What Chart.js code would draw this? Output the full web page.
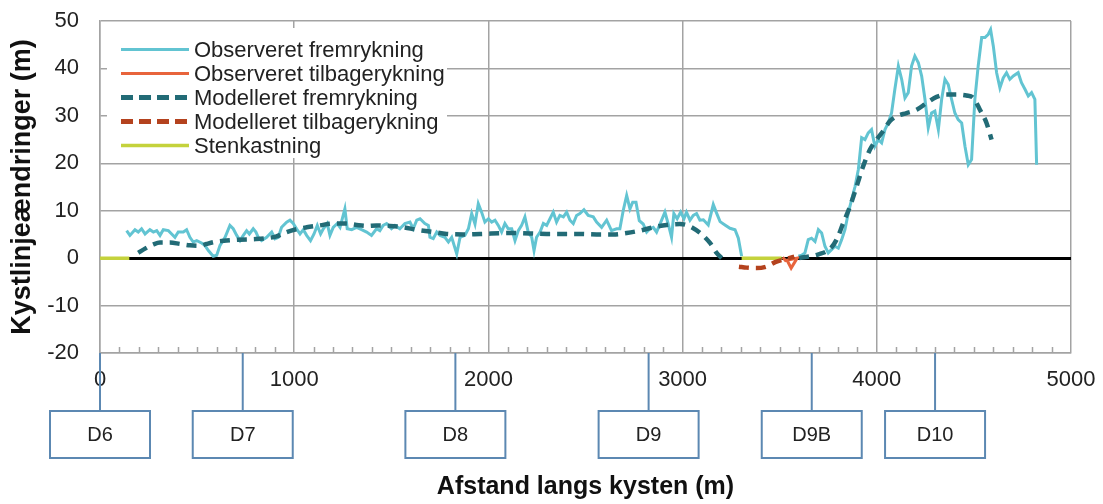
<!DOCTYPE html>
<html>
<head>
<meta charset="utf-8">
<script src="https://cdn.jsdelivr.net/npm/chart.js@4/dist/chart.umd.min.js"></script>
<style>
  html, body { margin: 0; padding: 0; background: #fff; }
  #wrap { width: 1103px; height: 504px; }
</style>
</head>
<body>
<div id="wrap"><canvas id="kyst"></canvas></div>
<script>
// --- data: [afstand (m), ændring (m)] ---
var obsFremA = [
  [137,5.8],[154,4.8],[180,6.0],[197,5.5],[214,6.2],[232,5.1],[257,6.0],[275,5.5],[292,5.8],[309,4.8],
  [326,6.0],[352,5.8],[369,5.1],[386,4.4],[403,5.5],[429,5.5],[446,6.0],[463,4.4],[480,3.4],[498,3.7],
  [523,3.2],[540,2.7],[558,1.6],[583,0.4],[601,0.6],[618,2.7],[644,4.4],[669,6.9],[686,6.2],[704,4.8],
  [721,3.7],[738,4.8],[755,5.8],[769,5.1],[789,6.2],[803,5.5],[815,4.4],[832,3.7],[858,4.4],[884,5.5],
  [901,4.1],[918,4.4],[935,6.5],[961,7.6],[978,8.0],[995,7.3],[1012,6.2],[1030,5.1],[1047,6.0],[1064,4.8],
  [1084,3.7],[1102,5.1],[1119,6.9],[1136,5.1],[1150,6.2],[1170,7.3],[1184,4.8],[1201,6.5],[1222,7.3],[1236,6.5],
  [1261,10.4],[1273,6.2],[1296,6.0],[1321,6.5],[1347,6.0],[1373,5.5],[1398,4.8],[1424,6.2],[1441,5.8],[1458,6.9],
  [1476,7.3],[1501,6.2],[1519,6.9],[1544,6.2],[1570,7.3],[1596,7.6],[1613,6.2],[1631,8.0],[1648,8.3],[1673,7.3],
  [1691,6.9],[1699,4.4],[1716,4.1],[1734,5.5],[1751,4.8],[1776,4.4],[1794,3.4],[1811,4.4],[1837,0.9],[1854,4.4],
  [1879,4.8],[1897,6.2],[1914,9.4],[1931,7.2],[1948,11.5],[1965,9.7],[1982,7.6],[2000,8.3],[2017,7.6],[2034,8.0],
  [2051,6.9],[2068,5.5],[2085,7.3],[2102,6.2],[2120,6.2],[2137,3.7],[2154,5.8],[2171,6.9],[2188,8.7],[2205,5.5],
  [2223,4.4],[2235,1.6],[2248,4.4],[2266,5.5],[2283,7.3],[2300,6.9],[2317,8.3],[2334,9.7],[2351,7.6],[2368,9.0],
  [2386,8.7],[2403,9.7],[2420,8.0],[2437,7.3],[2454,9.0],[2471,9.4],[2492,10.2],[2514,9.0],[2540,8.7],[2557,7.6],
  [2583,6.5],[2609,8.0],[2634,5.8],[2660,6.2],[2677,6.2],[2694,10.0],[2712,13.2],[2729,10.4],[2743,11.8],[2760,11.8],
  [2777,7.9],[2797,7.2],[2815,5.5],[2832,6.2],[2849,6.5],[2866,5.5],[2892,8.0],[2909,9.7],[2926,7.2],[2943,4.4],
  [2955,9.4],[2972,8.3],[2990,9.7],[3007,8.3],[3020,9.7],[3038,8.0],[3055,9.0],[3072,9.4],[3089,8.0],[3107,8.1],
  [3132,7.0],[3158,11.3],[3175,9.5],[3193,7.7],[3218,7.0],[3244,6.3],[3270,6.0],[3287,4.2],[3304,0.4]
];
var obsFremB = [
  [3596,0.4],[3613,0.6],[3630,1.1],[3647,3.9],[3664,4.2],[3682,3.5],[3699,6.0],[3716,5.3],[3733,2.5],[3750,1.1],
  [3767,1.8],[3785,2.5],[3802,2.1],[3819,3.9],[3836,6.0],[3853,9.5],[3870,12.3],[3888,15.1],[3905,18.7],[3922,25.4],
  [3939,25.0],[3956,26.4],[3973,27.1],[3990,23.6],[4008,25.0],[4025,24.3],[4042,27.1],[4059,28.5],[4076,30.6],[4093,35.6],
  [4111,40.5],[4128,37.7],[4145,33.8],[4162,34.9],[4179,40.5],[4196,42.6],[4214,41.2],[4231,38.4],[4248,33.5],[4265,27.5],
  [4282,30.6],[4299,31.0],[4317,27.1],[4334,33.5],[4351,37.7],[4368,36.6],[4385,33.5],[4402,30.6],[4419,29.2],[4437,28.5],
  [4454,23.6],[4471,19.7],[4488,20.8],[4505,33.5],[4522,40.5],[4540,46.5],[4557,46.5],[4574,47.2],[4586,48.2],[4600,44.7],
  [4617,39.1],[4634,35.9],[4651,38.0],[4668,39.1],[4685,37.7],[4703,38.4],[4728,39.1],[4745,37.0],[4763,35.6],[4780,34.2],
  [4797,34.9],[4814,33.5],[4823,19.7]
];
var obsTilbage = [[3515,0.2],[3530,-0.5],[3590,0.0],[3559,-2.1],[3540,-0.6]];
var modFremA = [
  [197,1.1],[232,2.0],[275,2.9],[309,3.3],[360,3.3],[412,3.0],[463,2.7],[515,2.6],[549,3.0],[601,3.5],
  [652,3.7],[721,3.9],[789,4.0],[858,4.2],[909,4.6],[961,5.5],[1012,6.1],[1064,6.5],[1132,6.9],[1201,7.3],
  [1270,7.3],[1321,7.0],[1373,6.8],[1424,6.9],[1493,6.8],[1562,6.5],[1630,6.0],[1716,5.5],[1785,5.1],[1871,5.0],
  [1957,5.1],[2128,5.3],[2300,5.1],[2471,5.1],[2557,5.0],[2643,5.0],[2712,5.3],[2780,5.8],[2849,6.5],[2918,7.0],
  [2986,7.2],[3038,6.7],[3090,5.3],[3141,3.2],[3175,1.1],[3201,0.0]
];
var modFremB = [
  [3600,0.0],[3700,0.8],[3760,2.0],[3793,3.9],[3827,7.4],[3862,10.9],[3896,15.1],[3930,19.4],[3965,22.9],[3999,25.0],
  [4033,26.8],[4068,28.9],[4102,29.9],[4153,30.6],[4205,31.3],[4256,32.7],[4308,34.0],[4359,34.5],[4411,34.5],[4462,34.3],
  [4497,33.8],[4531,31.3],[4565,28.5],[4591,25.0]
];
var modTilbage = [[3290,-1.8],[3330,-2.0],[3380,-2.1],[3430,-1.8],[3480,-0.8],[3520,-0.3],[3575,0.3]];
var stenA = [[0,0],[151,0]];
var stenB = [[3304,0],[3510,0]];

var stationNames = ["D6", "D7", "D8", "D9", "D9B", "D10"];
var stationDist = [0, 735, 1830, 2825, 3665, 4300];

var seriesLabels = ["Observeret fremrykning", "Observeret tilbagerykning", "Modelleret fremrykning",
  "Modelleret tilbagerykning", "Stenkastning"];

var
  cyan = "#62c4d2",
  orange = "#e8643c",
  teal = "#226b76",
  darkRed = "#b4421e",
  olive = "#c4d23c",
  gridGrey = "#a3a3a3",
  boxBlue = "#5c88b2",
  fontName = "'Liberation Sans', Arial, sans-serif";

function pts(arr) {
  return arr.map(function (p) { return {x: p[0], y: p[1]}; });
}
function gap(a, b) {
  return pts(a).concat([{x: (a[a.length - 1][0] + b[0][0]) / 2, y: null}], pts(b));
}

var dash = [10, 7];

var extras = {
  id: "extras",
  beforeDatasetsDraw: function (chart) {
    var ctx = chart.ctx, xs = chart.scales.x, a = chart.chartArea;
    ctx.save();
    ctx.strokeStyle = gridGrey;
    ctx.lineWidth = 1.5;
    for (var v = 100; v < 5000; v += 100) {
      if (v % 1000 === 0) continue;
      var px = Math.round(xs.getPixelForValue(v)) + 0.5;
      ctx.beginPath();
      ctx.moveTo(px, a.bottom);
      ctx.lineTo(px, a.bottom - 6);
      ctx.stroke();
    }
    ctx.restore();
  },
  afterDraw: function (chart) {
    var ctx = chart.ctx, xs = chart.scales.x, a = chart.chartArea;
    ctx.save();

    // legend inside the plot
    var lx = a.left + 7, ly = a.top + 7;
    ctx.fillStyle = "#fff";
    ctx.fillRect(lx, ly, 340, 130);
    var legendStyle = [
      {c: cyan, w: 3, d: []},
      {c: orange, w: 3, d: []},
      {c: teal, w: 5, d: [12, 6]},
      {c: darkRed, w: 5, d: [12, 6]},
      {c: olive, w: 3.5, d: []}
    ];
    ctx.font = "22px " + fontName;
    ctx.textBaseline = "middle";
    ctx.textAlign = "left";
    seriesLabels.forEach(function (lab, i) {
      var y = a.top + 28.5 + i * 24;
      var s = legendStyle[i];
      ctx.strokeStyle = s.c;
      ctx.lineWidth = s.w;
      ctx.setLineDash(s.d);
      ctx.beginPath();
      ctx.moveTo(a.left + 21, y);
      ctx.lineTo(a.left + 89, y);
      ctx.stroke();
      ctx.setLineDash([]);
      ctx.fillStyle = "#222";
      ctx.fillText(lab, a.left + 94, y + 1);
    });

    // station boxes below the axis
    ctx.strokeStyle = boxBlue;
    ctx.lineWidth = 2;
    ctx.font = "20px " + fontName;
    ctx.textAlign = "center";
    var boxTop = a.bottom + 58, boxH = 47, boxW = 100;
    stationNames.forEach(function (name, i) {
      var px = xs.getPixelForValue(stationDist[i]);
      ctx.beginPath();
      ctx.moveTo(px, a.bottom);
      ctx.lineTo(px, boxTop);
      ctx.stroke();
      ctx.strokeRect(px - boxW / 2, boxTop, boxW, boxH);
      ctx.fillStyle = "#222";
      ctx.fillText(name, px, boxTop + boxH / 2 + 1);
    });
    ctx.restore();
  }
};

function plain(v) { return String(v); }

new Chart(document.getElementById("kyst").getContext("2d"), {
  type: "line",
  data: {
    datasets: [
      {label: seriesLabels[2], data: gap(modFremA, modFremB), borderColor: teal, borderWidth: 4.5,
        borderDash: dash, cubicInterpolationMode: "monotone"},
      {label: seriesLabels[3], data: pts(modTilbage), borderColor: darkRed, borderWidth: 4.5,
        borderDash: dash, cubicInterpolationMode: "monotone"},
      {label: seriesLabels[1], data: pts(obsTilbage), borderColor: orange, borderWidth: 3},
      {label: seriesLabels[4], data: gap(stenA, stenB), borderColor: olive, borderWidth: 3.5},
      {label: seriesLabels[0], data: gap(obsFremA, obsFremB), borderColor: cyan, borderWidth: 3}
    ]
  },
  options: {
    responsive: true,
    maintainAspectRatio: false,
    animation: false,
    spanGaps: false,
    elements: {point: {radius: 0, hoverRadius: 0}, line: {tension: 0, fill: false}},
    layout: {padding: {top: 21, right: 32, bottom: 0, left: 0}},
    plugins: {legend: {display: false}, tooltip: {enabled: false}},
    scales: {
      x: {
        type: "linear",
        min: 0, max: 5000,
        afterFit: function (s) { s.height = 151; s.paddingLeft = 0; s.paddingRight = 0; },
        border: {color: gridGrey, width: 1.5},
        grid: {color: gridGrey, lineWidth: 1.5, drawTicks: false},
        ticks: {stepSize: 1000, padding: 14, color: "#222", callback: plain,
          font: {family: fontName, size: 22}},
        title: {display: true, text: "Afstand langs kysten (m)", color: "#111",
          font: {family: fontName, size: 25, weight: "bold"}, padding: {top: 0, bottom: 2}}
      },
      y: {
        min: -20, max: 50,
        afterFit: function (s) { s.width = 100; s.paddingTop = 0; s.paddingBottom = 0; },
        border: {color: gridGrey, width: 1.5},
        grid: {
          drawTicks: false,
          color: function (c) { return c.tick && c.tick.value === 0 ? "#000" : gridGrey; },
          lineWidth: function (c) { return c.tick && c.tick.value === 0 ? 3 : 1.5; }
        },
        ticks: {stepSize: 10, padding: 21, color: "#222", callback: plain,
          font: {family: fontName, size: 22}},
        title: {display: true, text: "Kystlinjeændringer (m)", color: "#111",
          font: {family: fontName, size: 27, weight: "bold"}, padding: {top: 6, bottom: 0}}
      }
    }
  },
  plugins: [extras]
});
</script>
</body>
</html>
